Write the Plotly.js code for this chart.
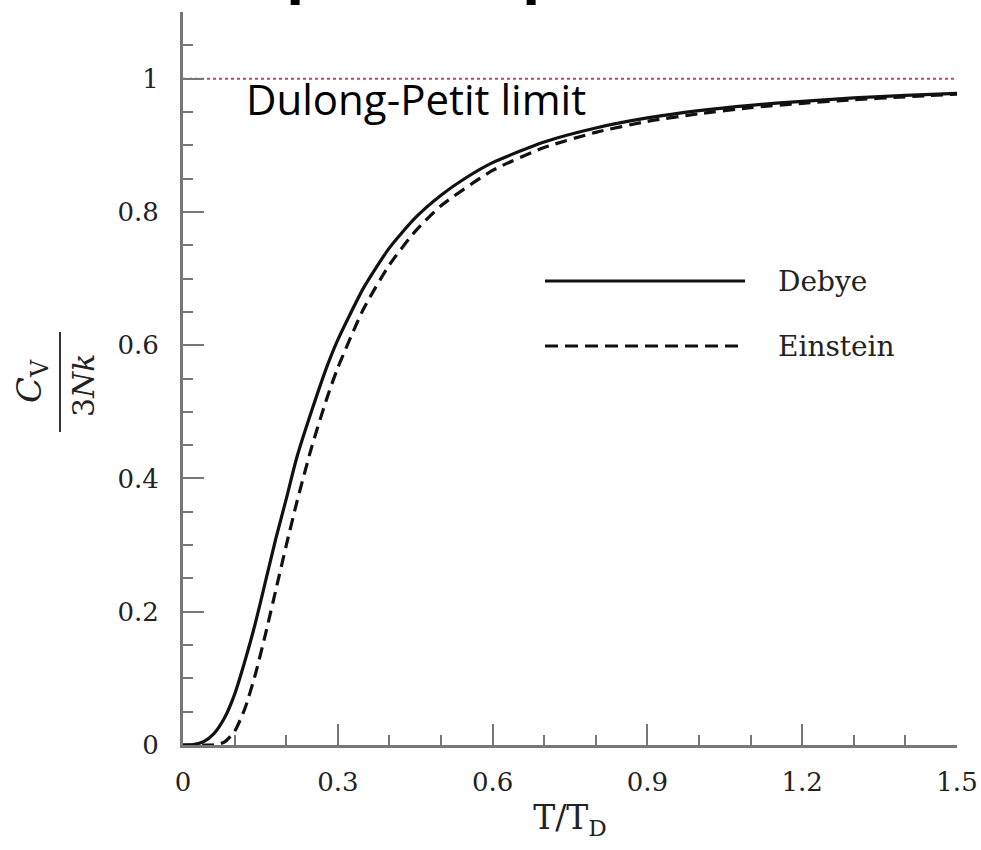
<!DOCTYPE html>
<html>
<head>
<meta charset="utf-8">
<script src="https://cdn.plot.ly/plotly-3.0.1.min.js"></script>
<style>html,body{margin:0;padding:0;background:#fff;}#chart{width:981px;height:850px;}</style>
</head>
<body>
<div id="chart"></div>
<script>
// Debye curve (T/T_D, Cv/3Nk)
const debyeT = [0, 0.02, 0.04, 0.06, 0.08, 0.10, 0.12, 0.14, 0.16, 0.18, 0.20, 0.22, 0.25, 0.28, 0.30, 0.35, 0.40, 0.45, 0.50, 0.55, 0.60, 0.70, 0.80, 0.90, 1.00, 1.10, 1.20, 1.30, 1.40, 1.50];
const debyeC = [0, 0.0006, 0.005, 0.017, 0.040, 0.076, 0.126, 0.182, 0.246, 0.310, 0.369, 0.430, 0.503, 0.570, 0.608, 0.686, 0.746, 0.791, 0.825, 0.852, 0.874, 0.905, 0.926, 0.941, 0.952, 0.960, 0.966, 0.971, 0.975, 0.978];
// Einstein curve
const einsteinT = [0, 0.04, 0.06, 0.08, 0.10, 0.12, 0.14, 0.16, 0.18, 0.20, 0.22, 0.25, 0.28, 0.30, 0.35, 0.40, 0.45, 0.50, 0.60, 0.70, 0.80, 0.90, 1.00, 1.10, 1.20, 1.30, 1.40, 1.50];
const einsteinC = [0, 0.0000, 0.0003, 0.0043, 0.0205, 0.0548, 0.1054, 0.1669, 0.2330, 0.2991, 0.3625, 0.4488, 0.5231, 0.5661, 0.6547, 0.7205, 0.7708, 0.8092, 0.8622, 0.8966, 0.9194, 0.9359, 0.9473, 0.9565, 0.9629, 0.9683, 0.9727, 0.9768];
// Dulong-Petit limit
const limitT = [0, 1.5];
const limitC = [1, 1];
// ticks
const xTickVals = [0, 0.3, 0.6, 0.9, 1.2, 1.5];
const xTickText = ['0', '0.3', '0.6', '0.9', '1.2', '1.5'];
const yTickVals = [0, 0.2, 0.4, 0.6, 0.8, 1];
const yTickText = ['0', '0.2', '0.4', '0.6', '0.8', '1'];
const seriesNames = ['Debye', 'Einstein'];

const W = 981, H = 850;
const M = {l: 183, r: 24, t: 12, b: 105};
const pw = W - M.l - M.r, ph = H - M.t - M.b;
const px = x => (x - M.l) / pw;
const py = y => (H - M.b - y) / ph;

const serif = '"DejaVu Serif", "Liberation Serif", serif';

const traces = [
  {x: limitT, y: limitC, mode: 'lines', line: {color: '#c8406a', width: 2, dash: 'dot'}, hoverinfo: 'skip', showlegend: false},
  {x: einsteinT, y: einsteinC, mode: 'lines', name: seriesNames[1], line: {color: '#111', width: 3.2, dash: '12px,7px', shape: 'spline', smoothing: 0.6}, showlegend: false},
  {x: debyeT, y: debyeC, mode: 'lines', name: seriesNames[0], line: {color: '#111', width: 3.2, shape: 'spline', smoothing: 0.6}, showlegend: false}
];

const axisCommon = {
  showgrid: false, zeroline: false, showline: true, linecolor: '#777', linewidth: 3,
  ticks: 'inside', ticklen: 21, tickwidth: 2, tickcolor: '#777',
  tickfont: {family: serif, size: 26, color: '#222'},
  mirror: false, fixedrange: true
};

const layout = {
  width: W, height: H,
  margin: M,
  paper_bgcolor: '#fff', plot_bgcolor: '#fff',
  showlegend: false,
  xaxis: Object.assign({}, axisCommon, {
    range: [0, 1.5], tickmode: 'array', tickvals: xTickVals, ticktext: xTickText,
    ticklabelstandoff: 12,
    minor: {dtick: 0.1, ticks: 'inside', ticklen: 10, tickwidth: 2, tickcolor: '#777'},
    title: {text: 'T/T<sub>D</sub>', font: {family: serif, size: 33, color: '#222'}, standoff: 10}
  }),
  yaxis: Object.assign({}, axisCommon, {
    range: [0, 1.1], tickmode: 'array', tickvals: yTickVals, ticktext: yTickText,
    ticklabelstandoff: 16,
    minor: {dtick: 0.05, ticks: 'inside', ticklen: 10, tickwidth: 2, tickcolor: '#777'}
  }),
  shapes: [
    {type: 'line', xref: 'paper', yref: 'paper', x0: px(60), x1: px(60), y0: py(332), y1: py(432), line: {color: '#333', width: 2}},
    {type: 'line', xref: 'paper', yref: 'paper', x0: px(545), x1: px(745), y0: py(281), y1: py(281), line: {color: '#111', width: 3}},
    {type: 'line', xref: 'paper', yref: 'paper', x0: px(545), x1: px(745), y0: py(346), y1: py(346), line: {color: '#111', width: 3, dash: '13px,7px'}}
  ],
  annotations: [
    {xref: 'paper', yref: 'paper', x: px(31), y: py(381), text: '<i>C</i><sub>V</sub>', textangle: -90, showarrow: false,
     font: {family: serif, size: 34, color: '#222'}, xanchor: 'center', yanchor: 'middle'},
    {xref: 'paper', yref: 'paper', x: px(83), y: py(385), text: '3<i>Nk</i>', textangle: -90, showarrow: false,
     font: {family: serif, size: 30, color: '#222'}, xanchor: 'center', yanchor: 'middle'},
    {xref: 'paper', yref: 'paper', x: px(776), y: py(281), text: seriesNames[0], showarrow: false,
     font: {family: serif, size: 28, color: '#222'}, xanchor: 'left', yanchor: 'middle'},
    {xref: 'paper', yref: 'paper', x: px(776), y: py(346), text: seriesNames[1], showarrow: false,
     font: {family: serif, size: 28, color: '#222'}, xanchor: 'left', yanchor: 'middle'},
    {xref: 'paper', yref: 'paper', x: px(244), y: py(99), text: 'Dulong-Petit limit', showarrow: false,
     font: {family: '"Open Sans", sans-serif', size: 42, color: '#000'}, xanchor: 'left', yanchor: 'middle'},
    {xref: 'paper', yref: 'paper', x: px(284), y: py(10), text: '<b>p</b>', showarrow: false,
     font: {family: '"Open Sans", sans-serif', size: 60, color: '#000'}, xanchor: 'left', yanchor: 'bottom'},
    {xref: 'paper', yref: 'paper', x: px(520), y: py(10), text: '<b>p</b>', showarrow: false,
     font: {family: '"Open Sans", sans-serif', size: 60, color: '#000'}, xanchor: 'left', yanchor: 'bottom'}
  ]
};

Plotly.newPlot('chart', traces, layout, {displayModeBar: false, staticPlot: true});
</script>
</body>
</html>
